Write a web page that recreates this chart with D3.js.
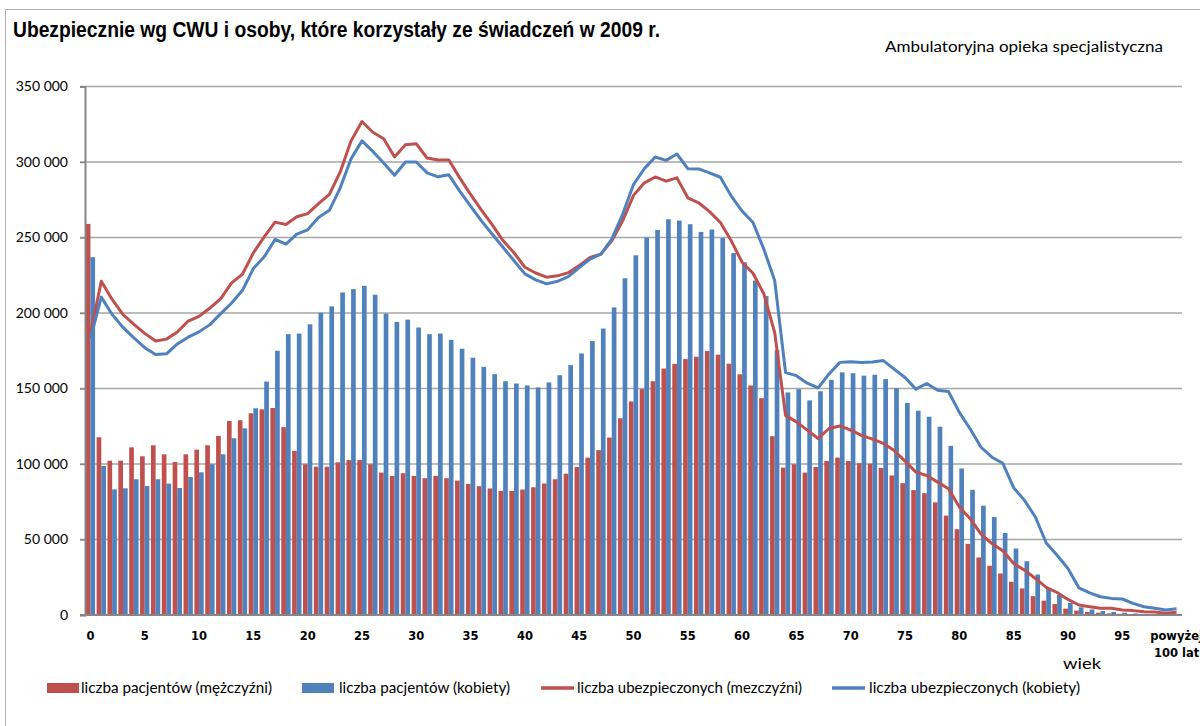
<!DOCTYPE html>
<html>
<head>
<meta charset="utf-8">
<script src="https://cdn.jsdelivr.net/npm/d3@7"></script>
<style>
  body { margin: 0; background: #ffffff; }
  svg { display: block; }
</style>
</head>
<body>
<script>

// categories: age 0..99 plus the last group
var ages = d3.range(0, 100).map(String).concat(["powyżej 100 lat"]);

// number of patients, men (red bars)
var patientsMen = [
  259000, 117700, 102200, 102200, 111000, 105100, 112400, 106400, 101300, 106400,
  109500, 112400, 118600, 128500, 129000, 133600, 136200, 137100, 124400, 108700,
  99800, 98200, 98200, 101100, 102600, 102600, 99800, 94300, 92100, 93900,
  92100, 90600, 92100, 90600, 89000, 86800, 85300, 83800, 82200, 82200,
  83100, 84600, 87100, 89900, 93600, 98000, 104200, 109200, 117500, 130300,
  141400, 149600, 154800, 163200, 166300, 169500, 171000, 174800, 172400, 166400,
  159400, 152000, 143600, 118400, 97600, 99800, 94300, 98000, 102000, 104200,
  102000, 100500, 100200, 97400, 92400, 87300, 82700, 80700, 74600, 65800,
  56800, 47100, 38100, 32600, 27500, 22000, 17600, 12500, 9500, 7300,
  4200, 2900, 2000, 1500, 1100, 800, 500, 300, 200, 150,
  150
];

// number of patients, women (blue bars)
var patientsWomen = [
  237000, 98700, 83200, 83900, 89900, 85400, 89900, 87000, 84100, 91400,
  94500, 99800, 106400, 117000, 123600, 136900, 154600, 175000, 186000, 186400,
  192500, 200200, 204400, 213600, 215800, 218000, 212100, 199600, 194100, 195600,
  190400, 186000, 186400, 182200, 176300, 170400, 164300, 159500, 154800, 153300,
  152000, 150700, 154000, 158800, 165500, 173200, 181400, 189700, 203700, 223000,
  238200, 250000, 255000, 262100, 261200, 258800, 253700, 255300, 249600, 239700,
  233600, 221500, 211200, 175400, 147400, 149600, 142100, 148200, 155700, 160700,
  160100, 158500, 159100, 156200, 150300, 140400, 135300, 131300, 124700, 112000,
  97000, 82900, 72400, 64900, 54300, 44000, 35600, 26800, 17600, 13200,
  8100, 5100, 3700, 2600, 2000, 1500, 1000, 700, 400, 300,
  300
];

// number of insured, men (red line)
var insuredMen = [
  186000, 221000, 209000, 199000, 192500, 186500, 181400, 182700, 187400, 194700,
  197800, 203300, 209500, 219900, 225700, 239800, 250400, 260200, 258600, 263700,
  265800, 272400, 278500, 293400, 314000, 326800, 319700, 315400, 303300, 311400,
  312100, 302600, 301300, 301300, 289500, 278500, 268200, 258300, 247800, 239900,
  230300, 226500, 223700, 224600, 226700, 231400, 236800, 239000, 247800, 261000,
  277900, 286200, 290100, 287300, 289500, 276300, 273000, 267100, 259900, 247800,
  233600, 226300, 212700, 187000, 132200, 127900, 122400, 116900, 123500, 125200,
  122400, 119000, 116500, 113700, 108900, 101900, 94600, 92400, 88000, 83600,
  71500, 63800, 53500, 47300, 42500, 34100, 29700, 24200, 18300, 14900,
  10300, 6600, 5500, 4400, 4400, 3300, 2900, 2200, 2000, 1100,
  1800
];

// number of insured, women (blue line)
var insuredWomen = [
  183000, 210500, 199000, 190500, 183500, 177000, 172500, 173000, 179500, 184000,
  187500, 192300, 199600, 206600, 215000, 229400, 237200, 248700, 245600, 252200,
  255100, 263200, 268000, 282900, 302200, 314000, 307000, 299300, 291200, 300000,
  300000, 292800, 290200, 291500, 280700, 270800, 261000, 252200, 243400, 234600,
  225900, 221900, 219300, 221000, 224100, 230000, 235700, 239000, 248900, 265400,
  285100, 295600, 303300, 301100, 305300, 295600, 295400, 292800, 289900, 277400,
  267500, 259900, 242300, 221500, 160500, 158500, 153500, 150400, 159600, 167300,
  167700, 167200, 167500, 168500, 162800, 157300, 149600, 153300, 148900, 148000,
  134200, 123200, 111100, 104500, 100500, 84300, 75900, 64900, 47700, 39600,
  30800, 18000, 14700, 12100, 11000, 10600, 7700, 5500, 4400, 3300,
  4200
];

// y axis ticks
var yTicks = [0, 50000, 100000, 150000, 200000, 250000, 300000, 350000];

// legend texts
var legendText = ["liczba pacjentów (mężczyźni)", "liczba pacjentów (kobiety)",
                  "liczba ubezpieczonych (mezczyźni)", "liczba ubezpieczonych (kobiety)"];

// size and padding of the plot area
var w = 1200;
var h = 726;
var plotLeft = 85;
var plotRight = 1182;
var plotTop = 86.5;
var plotBottom = 615;

var red = "#c0504d";
var blue = "#4f81bd";
var gridColor = "#a6a6a6";
var axisColor = "#868686";

// create svg element
var svg = d3.select("body")
            .append("svg")
            .attr("width", w)
            .attr("height", h);

svg.append("rect")
   .attr("width", w)
   .attr("height", h)
   .attr("fill", "#ffffff");

// outer frame of the chart
svg.append("rect")
   .attr("x", 5.5)
   .attr("y", 9.5)
   .attr("width", w + 10)
   .attr("height", h + 10)
   .attr("fill", "none")
   .attr("stroke", "#b0b0b0")
   .attr("stroke-width", 1);

// scales
var xScale = d3.scaleBand()
               .domain(ages)
               .range([plotLeft, plotRight])
               .paddingInner(0.14)
               .paddingOuter(0.07);

var series = d3.scaleBand()
               .domain(["m", "k"])
               .range([0, xScale.bandwidth()]);

var yScale = d3.scaleLinear()
               .domain([0, 350000])
               .range([plotBottom, plotTop]);

var fmt = d3.formatLocale({decimal: ",", thousands: " ", grouping: [3], currency: ["", ""]})
            .format(",");

// gridlines
svg.append("g")
   .attr("class", "grid")
   .selectAll("line")
   .data(yTicks.slice(1))
   .enter()
   .append("line")
   .attr("x1", plotLeft - 5)
   .attr("x2", plotRight)
   .attr("y1", function(d) { return yScale(d); })
   .attr("y2", function(d) { return yScale(d); })
   .attr("stroke", gridColor)
   .attr("stroke-width", 1.4);

// bars men
svg.append("g")
   .selectAll("rect")
   .data(patientsMen)
   .enter()
   .append("rect")
   .attr("x", function(d, i) { return xScale(ages[i]) + series("m"); })
   .attr("y", function(d) { return yScale(d); })
   .attr("width", series.bandwidth())
   .attr("height", function(d) { return plotBottom - yScale(d); })
   .attr("fill", red);

// bars women
svg.append("g")
   .selectAll("rect")
   .data(patientsWomen)
   .enter()
   .append("rect")
   .attr("x", function(d, i) { return xScale(ages[i]) + series("k"); })
   .attr("y", function(d) { return yScale(d); })
   .attr("width", series.bandwidth())
   .attr("height", function(d) { return plotBottom - yScale(d); })
   .attr("fill", blue);

// lines
var line = d3.line()
             .x(function(d, i) { return xScale(ages[i]) + xScale.bandwidth() / 2; })
             .y(function(d) { return yScale(d); });

svg.append("path")
   .datum(insuredMen)
   .attr("d", line)
   .attr("fill", "none")
   .attr("stroke", red)
   .attr("stroke-width", 3)
   .attr("stroke-linejoin", "round");

svg.append("path")
   .datum(insuredWomen)
   .attr("d", line)
   .attr("fill", "none")
   .attr("stroke", blue)
   .attr("stroke-width", 3)
   .attr("stroke-linejoin", "round");

// y axis
var yAxis = d3.axisLeft(yScale)
              .tickValues(yTicks)
              .tickFormat(fmt)
              .tickSize(5)
              .tickPadding(12);

var gy = svg.append("g")
            .attr("transform", "translate(" + plotLeft + ",0)")
            .call(yAxis);

gy.select(".domain").attr("stroke", axisColor).attr("stroke-width", 2);
gy.selectAll(".tick line").attr("stroke", axisColor).attr("stroke-width", 1.4);
gy.selectAll(".tick text")
  .attr("font-family", "Lato, 'Open Sans', sans-serif")
  .attr("font-size", "14px")
  .attr("fill", "#000000");

// x axis, label every 5 years
var xAxis = d3.axisBottom(xScale)
              .tickValues(ages.filter(function(d, i) { return i % 5 == 0; }))
              .tickSize(0)
              .tickPadding(17);

var gx = svg.append("g")
            .attr("transform", "translate(0," + plotBottom + ")")
            .call(xAxis);

gx.select(".domain").attr("stroke", axisColor).attr("stroke-width", 2.2)
  .attr("d", "M" + (plotLeft - 5) + ",0H" + plotRight);
gx.selectAll(".tick text")
  .attr("font-family", "'DejaVu Sans', sans-serif")
  .attr("font-weight", "bold")
  .attr("font-size", "11.5px")
  .attr("fill", "#000000");

// last label on two lines
var lastLabel = gx.selectAll(".tick text").filter(function(d) { return d == "powyżej 100 lat"; });
lastLabel.text(null);
lastLabel.append("tspan").attr("x", 0).attr("dy", "0.71em").text("powyżej");
lastLabel.append("tspan").attr("x", 0).attr("dy", "1.45em").text("100 lat");

// title
svg.append("text")
   .attr("x", 13)
   .attr("y", 37)
   .attr("font-family", "'Liberation Sans Narrow', 'Liberation Sans', Arial, sans-serif")
   .attr("font-weight", "bold")
   .attr("font-size", "22px")
   .attr("textLength", 647)
   .attr("lengthAdjust", "spacingAndGlyphs")
   .text("Ubezpiecznie wg CWU i osoby, które korzystały ze świadczeń w 2009 r.");

svg.append("text")
   .attr("x", 885)
   .attr("y", 52)
   .attr("font-family", "Lato, 'Open Sans', sans-serif")
   .attr("font-size", "14.5px")
   .attr("textLength", 278)
   .attr("lengthAdjust", "spacingAndGlyphs")
   .text("Ambulatoryjna opieka specjalistyczna");

// axis title
svg.append("text")
   .attr("x", 1063)
   .attr("y", 669)
   .attr("font-family", "Lato, 'Open Sans', sans-serif")
   .attr("font-size", "16px")
   .attr("textLength", 38)
   .attr("lengthAdjust", "spacingAndGlyphs")
   .text("wiek");

// legend
var legendX = [47, 302, 541, 832];
var legendTextX = [81, 339, 577, 869];
var legendTextW = [191, 171, 225, 211];
var legendY = 688;

for (var n = 0; n < legendText.length; n++) {
  if (n < 2) {
    svg.append("rect")
       .attr("x", legendX[n])
       .attr("y", legendY - 5)
       .attr("width", 32)
       .attr("height", 10)
       .attr("fill", n == 0 ? red : blue);
  }
  else {
    svg.append("line")
       .attr("x1", legendX[n])
       .attr("x2", legendX[n] + 33)
       .attr("y1", legendY)
       .attr("y2", legendY)
       .attr("stroke", n == 2 ? red : blue)
       .attr("stroke-width", 3.5);
  }
  svg.append("text")
     .attr("x", legendTextX[n])
     .attr("y", legendY + 5)
     .attr("font-family", "Lato, 'Open Sans', sans-serif")
     .attr("font-size", "15px")
     .attr("textLength", legendTextW[n])
     .attr("lengthAdjust", "spacingAndGlyphs")
     .text(legendText[n]);
}

</script>
</body>
</html>
